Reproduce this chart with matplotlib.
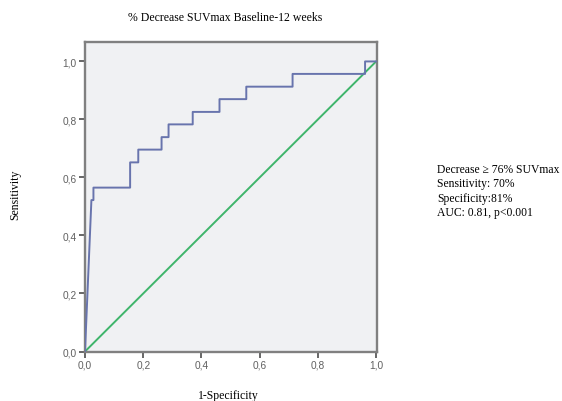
import matplotlib
matplotlib.use("Agg")
import matplotlib.pyplot as plt

# ROC curve points (1-Specificity, Sensitivity)
fpr = [0.0, 0.022, 0.029, 0.029, 0.155, 0.155, 0.183, 0.183, 0.263, 0.263, 0.287, 0.287,
       0.370, 0.370, 0.462, 0.462, 0.554, 0.554, 0.713, 0.713, 0.962, 0.962, 1.0]
tpr = [0.0, 0.522, 0.522, 0.565, 0.565, 0.652, 0.652, 0.696, 0.696, 0.739, 0.739, 0.783,
       0.783, 0.826, 0.826, 0.870, 0.870, 0.913, 0.913, 0.957, 0.957, 1.0, 1.0]
ref_x = [0.0, 1.0]
ref_y = [0.0, 1.0]
ticks = [0.0, 0.2, 0.4, 0.6, 0.8, 1.0]
tick_labels = ["0,0", "0,2", "0,4", "0,6", "0,8", "1,0"]
title = "% Decrease SUVmax Baseline-12 weeks"
annot = ["Decrease \u2265 76% SUVmax", "Sensitivity: 70%", "Specificity:81%", "AUC: 0.81, p<0.001"]

W, H = 562, 402
fig = plt.figure(figsize=(W / 100, H / 100), dpi=100)
ax = fig.add_axes([85 / W, 1 - 352.5 / H, 292 / W, 309.5 / H])
ax.set_facecolor("#f0f1f3")
ax.plot(ref_x, ref_y, color="#3fb56b", lw=1.4, zorder=2)
ax.plot(fpr, tpr, color="#6874ad", lw=1.4, zorder=3)
ax.set_xlim(0, 1.003)
ax.set_ylim(0, 1.067)
ax.set_xticks(ticks)
ax.set_xticklabels(tick_labels)
ax.set_yticks(ticks)
ax.set_yticklabels(tick_labels)
for s in ax.spines.values():
    s.set_color("#808080")
    s.set_linewidth(1.7)
ax.tick_params(axis="both", direction="out", length=4, width=1.4, color="#666666",
               labelsize=7.3, labelcolor="#606060", pad=2)
for lab in ax.get_xticklabels() + ax.get_yticklabels():
    lab.set_family("Liberation Sans")

serif = "Liberation Serif"
fig.text(225 / W, 1 - 18 / H, title, ha="center", va="center", family=serif, fontsize=8.5)
fig.text(15 / W, 1 - 195 / H, "Sensitivity", ha="center", va="center", rotation=90,
         family=serif, fontsize=8.5)
fig.text(228 / W, 1 - 396 / H, "1-Specificity", ha="center", va="center", family=serif, fontsize=8.5)
for i, t in enumerate(annot):
    fig.text(437 / W, 1 - (170 + 14.3 * i) / H, t, ha="left", va="center", family=serif, fontsize=8.4)

fig.savefig("out.png", dpi=100)
